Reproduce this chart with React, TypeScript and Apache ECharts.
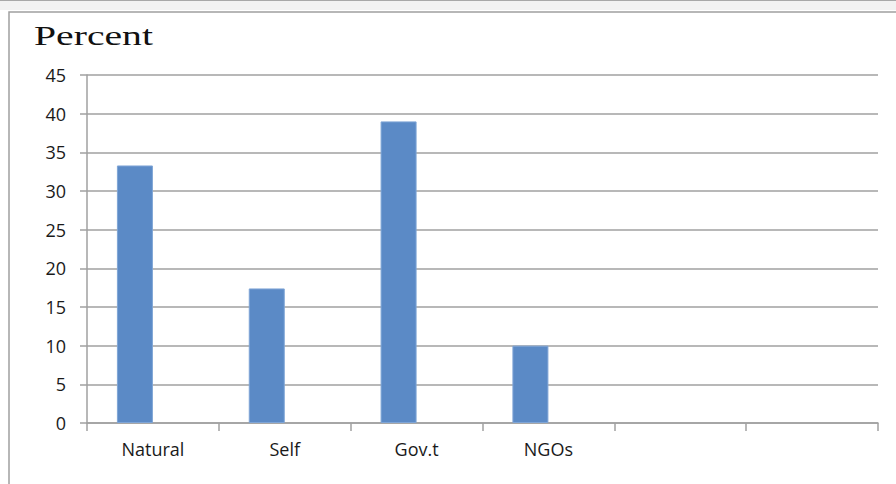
import React, { useEffect, useRef } from "react";
import * as echarts from "echarts";

const categories = ["Natural", "Self", "Gov.t", "NGOs", "", ""];
const percentValues: (number | null)[] = [33.3, 17.4, 39, 10, null, null];
const secondSeriesValues: (number | null)[] = [null, null, null, null, null, null];
const yTicks = { min: 0, max: 45, interval: 5 };
const titleText = "Percent";

export default function App() {
  const ref = useRef<HTMLDivElement>(null);
  useEffect(() => {
    if (!ref.current) return;
    const chart = echarts.init(ref.current, null, { renderer: "svg" });
    chart.setOption({
      animation: false,
      backgroundColor: "#ffffff",
      graphic: [
        {
          type: "rect",
          z: -10,
          shape: { x: 0, y: 0, width: 896, height: 10 },
          style: { fill: "#f2f2f2", stroke: "none" },
        },
        {
          type: "line",
          z: -10,
          shape: { x1: 0, y1: 0.5, x2: 896, y2: 0.5 },
          style: { stroke: "#a8a8a8", lineWidth: 1 },
        },
        {
          type: "rect",
          z: -10,
          shape: { x: 9, y: 12, width: 900, height: 500 },
          style: { fill: "none", stroke: "#a0a0a0", lineWidth: 1.5 },
        },
        {
          type: "text",
          x: 34,
          y: 22,
          scaleX: 1.47,
          scaleY: 1,
          style: {
            text: titleText,
            font: "27px 'Liberation Serif'",
            fill: "#111111",
            textVerticalAlign: "top",
          },
        },
      ],
      grid: { left: 87, right: 18, top: 75, bottom: 61, containLabel: false },
      xAxis: {
        type: "category",
        data: categories,
        boundaryGap: true,
        axisLine: { show: true, lineStyle: { color: "#a0a0a0", width: 1.5 } },
        axisTick: { show: true, length: 8, alignWithLabel: false, lineStyle: { color: "#a0a0a0", width: 1.5 } },
        axisLabel: {
          margin: 17,
          color: "#1a1a1a",
          fontFamily: "Open Sans",
          fontSize: 18,
          interval: 0,
        },
        splitLine: { show: false },
      },
      yAxis: {
        type: "value",
        min: yTicks.min,
        max: yTicks.max,
        interval: yTicks.interval,
        axisLine: { show: true, lineStyle: { color: "#a0a0a0", width: 1.5 } },
        axisTick: { show: true, length: 7, lineStyle: { color: "#a0a0a0", width: 1.5 } },
        axisLabel: {
          margin: 21,
          color: "#1a1a1a",
          fontFamily: "Open Sans",
          fontSize: 18,
        },
        splitLine: { show: true, lineStyle: { color: "#a0a0a0", width: 1.5 } },
      },
      series: [
        {
          name: "Percent",
          type: "bar",
          data: percentValues,
          barWidth: 36,
          barGap: "0%",
          itemStyle: { color: "#5B8AC6", borderColor: "#7FA5D6", borderWidth: 1 },
        },
        {
          name: "",
          type: "bar",
          data: secondSeriesValues,
          barWidth: 36,
          barGap: "0%",
          itemStyle: { color: "#C0504D" },
        },
      ],
    });
    return () => chart.dispose();
  }, []);
  return <div ref={ref} style={{ width: 896, height: 484, position: "absolute", left: 0, top: 0 }} />;
}
